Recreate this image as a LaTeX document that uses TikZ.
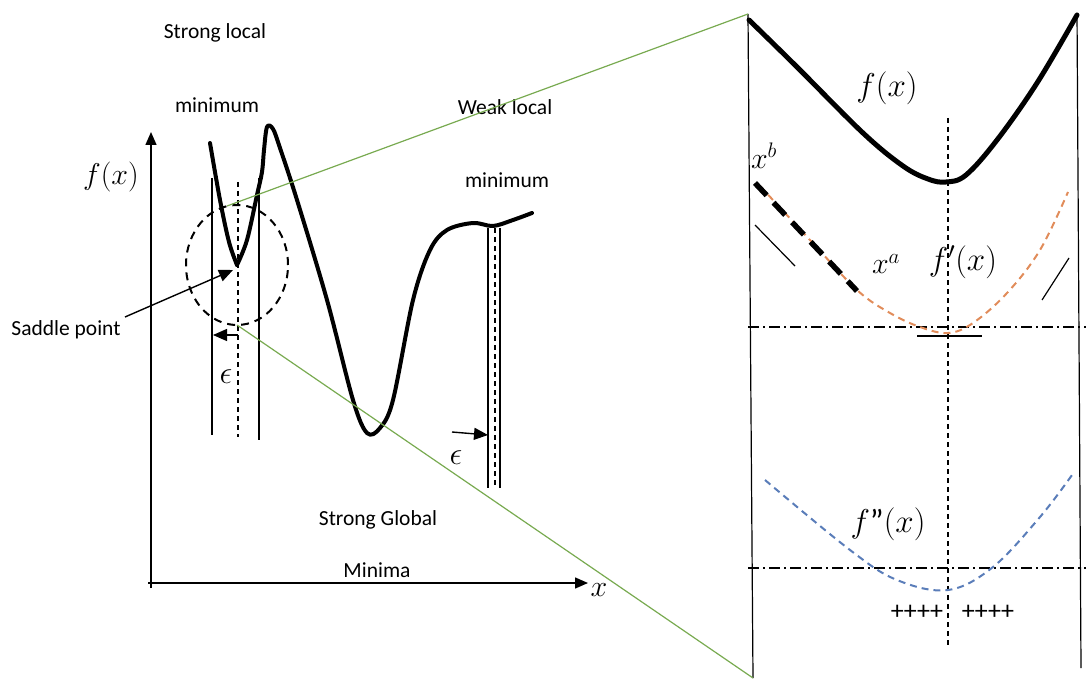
\RequirePackage{fix-cm}
\documentclass[tikz,border=0pt]{standalone}
\usepackage[no-math]{fontspec}
\setmainfont{Carlito}
\usetikzlibrary{arrows.meta,shapes.geometric}
\definecolor{zoomgreen}{RGB}{120,170,80}
\definecolor{derorange}{RGB}{225,140,90}
\definecolor{derblue}{RGB}{90,125,185}
\begin{document}
\begin{tikzpicture}[x=1pt,y=-1pt,
  lbl/.style={font=\fontsize{21.5}{24}\selectfont, inner sep=0pt},
  mth/.style={font=\fontsize{30}{32}\selectfont, inner sep=0pt},
  mthbig/.style={font=\fontsize{33}{35}\selectfont, inner sep=0pt},
  eps/.style={font=\fontsize{32}{34}\selectfont, inner sep=0pt},
  thinln/.style={line width=1.2pt},
  thindash/.style={line width=1.2pt, dash pattern=on 5pt off 4pt},
  dashdot/.style={line width=1.2pt, dash pattern=on 11pt off 4pt on 2pt off 4pt},
  curvebold/.style={line width=4pt, line cap=round, line join=round},
  axisarrow/.style={line width=1.4pt, -{Triangle[length=13pt,width=11pt]}},
  smallarrow/.style={line width=1.4pt, -{Triangle[length=14pt,width=12pt]}},
  zoomline/.style={line width=1.2pt, zoomgreen},
  plus/.style={font=\fontsize{26}{28}\selectfont, inner sep=0pt},
]
\useasboundingbox (0,0) rectangle (1086,679);

% ---------- left graph ----------
\coordinate (yaxbot) at (151,588);
\coordinate (yaxtop) at (151,132);
\coordinate (xaxl) at (148,583);
\coordinate (xaxr) at (588,583);
\draw[axisarrow] (yaxbot) -- (yaxtop);
\draw[axisarrow] (xaxl) -- (xaxr);
\node[mth] (fxl) at (111,177) {$f(x)$};
\node[mth] (xl) at (599,590) {$x$};

% main curve
\draw[curvebold] plot[smooth, tension=0.55] coordinates {
 (210,143) (220,200) (229,242) (237,265)};
\draw[curvebold] plot[smooth, tension=0.55] coordinates {
 (237,265) (247,240) (257,195) (262,172) (264,150) (267,127) (273,129) (280,148)
 (297,200) (327,300) (353,400) (367,433) (380,428) (393,400) (413,300) (430,250)
 (447,230) (473,223) (493,226) (513,220) (532,213)};

% vertical lines around strong local minimum
\draw[thinln] (212,178) -- (212,435);
\draw[thindash] (238,182) -- (238,437);
\draw[thinln] (259,178) -- (259,440);
% vertical lines at weak local minimum
\draw[thinln] (488,228) -- (488,488);
\draw[thindash] (495,228) -- (495,488);
\draw[thinln] (500,228) -- (500,488);

% epsilon arrows
\coordinate (ea1) at (238,335);
\coordinate (ea2) at (213,335);
\draw[smallarrow] (ea1) -- (ea2);
\node[eps] (eps1) at (226,377) {$\epsilon$};
\coordinate (eb1) at (452,432);
\coordinate (eb2) at (488,435);
\draw[smallarrow] (eb1) -- (eb2);
\node[eps] (eps2) at (456,458) {$\epsilon$};

% dashed circle
\node[draw, ellipse, line width=2pt, dash pattern=on 8pt off 6pt,
  minimum width=102pt, minimum height=120pt, inner sep=0pt] (circ) at (237,265) {};

% saddle point
\node[lbl] (saddle) at (66,330) {Saddle point};
\coordinate (saddlestart) at (125,317);
\coordinate (saddletip) at (233,270);
\draw[smallarrow] (saddlestart) -- (saddletip);

% labels
\node[lbl] (sl) at (215,33) {Strong local};
\node[lbl] (m1) at (217,105) {minimum};
\node[lbl] (wl) at (505,107) {Weak local};
\node[lbl] (m2) at (507,180) {minimum};
\node[lbl] (sg) at (378,520) {Strong Global};
\node[lbl] (mi) at (377,570) {Minima};

% ---------- right panel ----------
\coordinate (pTL) at (748,14);
\coordinate (pBL) at (753,678);
\coordinate (pTR) at (1077,13);
\coordinate (pBR) at (1081,668);
\draw[thinln] (pTL) -- (pBL);
\draw[thinln] (pTR) -- (pBR);

% zoom lines
\coordinate (zs1) at (227,206);
\coordinate (zs2) at (237,325);
\draw[zoomline] (zs1) -- (pTL);
\draw[zoomline] (zs2) -- (pBL);

% f(x)
\draw[line width=5pt, line cap=round, line join=round] plot[smooth, tension=0.6] coordinates {
 (749,20) (797,67) (863,133) (903,166) (928,179) (946,182) (966,175) (997,140) (1037,83) (1077,15)};
\node[mthbig] (fxr) at (887,88) {$f(x)$};

% vertical dashed centre line
\draw[thindash] (948,118) -- (948,647);

% dash-dot axes
\draw[dashdot] (748,327) -- (1086,327);
\draw[dashdot] (748,568) -- (1086,568);

% f'(x)
\draw[line width=2pt, derorange, dash pattern=on 7pt off 5pt] plot[smooth, tension=0.6] coordinates {
 (760,186) (810,240) (857,290) (890,313) (920,327) (948,333) (973,323) (1007,293) (1040,250) (1068,192)};
\draw[line width=5.5pt, dash pattern=on 17pt off 10pt] (755,183) -- (857,291);
\node[mth] (xb) at (764,156) {$x^b$};
\node[mth] (xa) at (886,264) {$x^a$};
\node[mthbig] (fpr) at (963,262) {$f'(x)$};
\draw[thinln] (755,225) -- (795,266);
\draw[thinln] (1042,300) -- (1069,258);
\draw[line width=1.3pt] (917,336) -- (982,336);

% f''(x)
\draw[line width=2pt, derblue, dash pattern=on 7pt off 5pt] plot[smooth, tension=0.6] coordinates {
 (765,480) (850,550) (897,580) (948,590) (993,567) (1040,517) (1072,475)};
\node[mthbig] (fppr) at (888,524) {$f\mbox{"}(x)$};
\node[plus] (pl1) at (917,612) {++++};
\node[plus] (pl2) at (988,612) {++++};
\end{tikzpicture}
\end{document}
